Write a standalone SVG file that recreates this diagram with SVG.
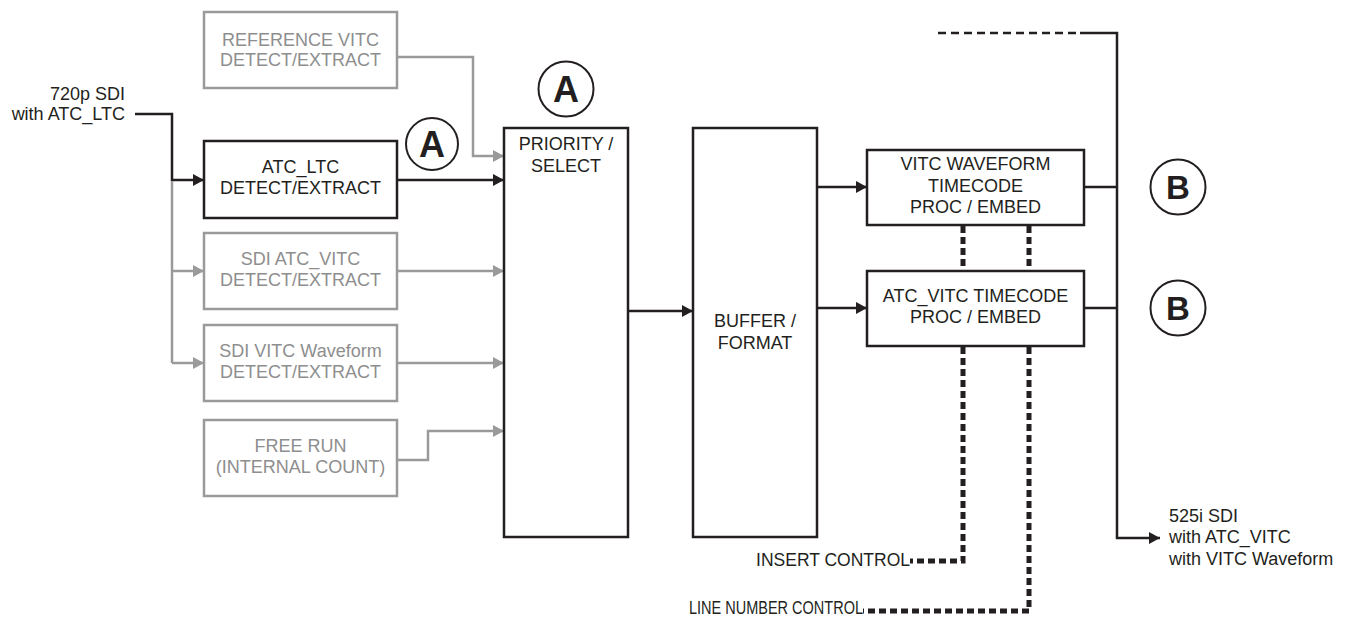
<svg xmlns="http://www.w3.org/2000/svg" width="1351" height="621" viewBox="0 0 1351 621">
  <style>
    text { font-family: "Liberation Sans", Arial, sans-serif; font-size: 18px; fill: #231f20; }
    .mid { text-anchor: middle; }
    .end { text-anchor: end; }
    .dim text, text.dim { fill: #8e8e8e; }
    .box { fill: #ffffff; stroke: #231f20; stroke-width: 2.5; }
    .box.dim { stroke: #9a9a9a; }
    .wire { fill: none; stroke: #231f20; stroke-width: 2.5; }
    .wire.dim { stroke: #9a9a9a; }
    .dot { fill: none; stroke: #231f20; stroke-width: 2.5; stroke-dasharray: 5 5; }
    .dash { fill: none; stroke: #231f20; stroke-width: 2.5; stroke-dasharray: 8 5; }
    .ctrl { fill: none; stroke: #231f20; stroke-width: 5; stroke-dasharray: 7 4; }
    .tag circle { fill: #ffffff; stroke: #231f20; stroke-width: 2; }
    .tag text { font-weight: bold; text-anchor: middle; }
  </style>
  <defs>
    <marker id="arrow" markerUnits="userSpaceOnUse" markerWidth="11" markerHeight="12" refX="11" refY="6" orient="auto">
      <path d="M0,0 L11,6 L0,12 Z" fill="#231f20"/>
    </marker>
    <marker id="arrow-dim" markerUnits="userSpaceOnUse" markerWidth="11" markerHeight="12" refX="11" refY="6" orient="auto">
      <path d="M0,0 L11,6 L0,12 Z" fill="#9a9a9a"/>
    </marker>
  </defs>

  <rect width="1351" height="621" fill="#ffffff"/>

  <!-- connectors -->
  <g id="connectors">
    <path class="wire" d="M135,114 H172 V180 H204" marker-end="url(#arrow)"/>
    <path class="wire dim" d="M172,181 V363"/>
    <path class="wire dim" d="M172,271 H204" marker-end="url(#arrow-dim)"/>
    <path class="wire dim" d="M172,363 H204" marker-end="url(#arrow-dim)"/>
    <path class="wire dim" d="M397,57 H473 V156 H504" marker-end="url(#arrow-dim)"/>
    <path class="wire" d="M397,180 H504" marker-end="url(#arrow)"/>
    <path class="wire dim" d="M397,271 H504" marker-end="url(#arrow-dim)"/>
    <path class="wire dim" d="M397,363 H504" marker-end="url(#arrow-dim)"/>
    <path class="wire dim" d="M397,460 H428 V431 H504" marker-end="url(#arrow-dim)"/>
    <path class="dot" d="M506,182 L626,307"/>
    <path class="wire" d="M628,311 H693" marker-end="url(#arrow)"/>
    <path class="wire" d="M817,187 H867" marker-end="url(#arrow)"/>
    <path class="wire" d="M817,308 H867" marker-end="url(#arrow)"/>
    <path class="wire" d="M1084,187 H1117"/>
    <path class="wire" d="M1084,308 H1117"/>
    <path class="dash" d="M938,33 H1080"/>
    <path class="wire" d="M1080,33 H1117 V538 H1160" marker-end="url(#arrow)"/>
    <path class="ctrl" d="M963,226 V270"/>
    <path class="ctrl" d="M1029,226 V270"/>
    <path class="ctrl" d="M963,347 V561 H910"/>
    <path class="ctrl" d="M1029,347 V611 H863"/>
  </g>

  <!-- input / output labels -->
  <g id="input-label">
    <text class="end" x="125" y="100">720p SDI</text>
    <text class="end" x="125" y="120">with ATC_LTC</text>
  </g>
  <g id="output-label">
    <text x="1169" y="522">525i SDI</text>
    <text x="1169" y="543">with ATC_VITC</text>
    <text x="1169" y="565">with VITC Waveform</text>
  </g>
  <g id="insert-control">
    <text class="end" x="910" y="566" style="font-size:17.5px">INSERT CONTROL</text>
  </g>
  <g id="line-number-control">
    <text x="689" y="614" style="font-size:17.5px" textLength="174" lengthAdjust="spacingAndGlyphs">LINE NUMBER CONTROL</text>
  </g>

  <!-- detect / extract sources -->
  <g id="ref-vitc" class="dim">
    <rect class="box dim" x="204" y="12" width="193" height="76"/>
    <text class="mid" x="300.5" y="46">REFERENCE VITC</text>
    <text class="mid" x="300.5" y="66">DETECT/EXTRACT</text>
  </g>
  <g id="atc-ltc">
    <rect class="box" x="204" y="141" width="193" height="77"/>
    <text class="mid" x="300.5" y="173">ATC_LTC</text>
    <text class="mid" x="300.5" y="194">DETECT/EXTRACT</text>
  </g>
  <g id="sdi-atc-vitc" class="dim">
    <rect class="box dim" x="204" y="233" width="193" height="76"/>
    <text class="mid" x="300.5" y="265">SDI ATC_VITC</text>
    <text class="mid" x="300.5" y="286">DETECT/EXTRACT</text>
  </g>
  <g id="sdi-vitc-waveform" class="dim">
    <rect class="box dim" x="204" y="325" width="193" height="76"/>
    <text class="mid" x="300.5" y="357">SDI VITC Waveform</text>
    <text class="mid" x="300.5" y="378">DETECT/EXTRACT</text>
  </g>
  <g id="free-run" class="dim">
    <rect class="box dim" x="204" y="420" width="193" height="76"/>
    <text class="mid" x="300.5" y="452">FREE RUN</text>
    <text class="mid" x="300.5" y="473">(INTERNAL COUNT)</text>
  </g>

  <!-- processing -->
  <g id="priority-select">
    <rect class="box" x="504" y="128" width="124" height="409"/>
    <text class="mid" x="566" y="150">PRIORITY /</text>
    <text class="mid" x="566" y="172">SELECT</text>
  </g>
  <g id="buffer-format">
    <rect class="box" x="693" y="128" width="124" height="409"/>
    <text class="mid" x="755" y="327">BUFFER /</text>
    <text class="mid" x="755" y="349">FORMAT</text>
  </g>
  <g id="vitc-waveform-embed">
    <rect class="box" x="867" y="150" width="217" height="75"/>
    <text class="mid" x="975.5" y="170">VITC WAVEFORM</text>
    <text class="mid" x="975.5" y="192">TIMECODE</text>
    <text class="mid" x="975.5" y="213">PROC / EMBED</text>
  </g>
  <g id="atc-vitc-embed">
    <rect class="box" x="867" y="271" width="217" height="75"/>
    <text class="mid" x="975.5" y="302">ATC_VITC TIMECODE</text>
    <text class="mid" x="975.5" y="323">PROC / EMBED</text>
  </g>

  <!-- reference tags -->
  <g id="tag-a1" class="tag">
    <circle cx="432" cy="144" r="26"/>
    <text x="432" y="157" style="font-size:36px">A</text>
  </g>
  <g id="tag-a2" class="tag">
    <circle cx="566" cy="89" r="27.5"/>
    <text x="566" y="102" style="font-size:36px">A</text>
  </g>
  <g id="tag-b1" class="tag">
    <circle cx="1178" cy="187" r="27.5"/>
    <text x="1178" y="199" style="font-size:33px">B</text>
  </g>
  <g id="tag-b2" class="tag">
    <circle cx="1178" cy="308" r="27.5"/>
    <text x="1178" y="320" style="font-size:33px">B</text>
  </g>
</svg>
